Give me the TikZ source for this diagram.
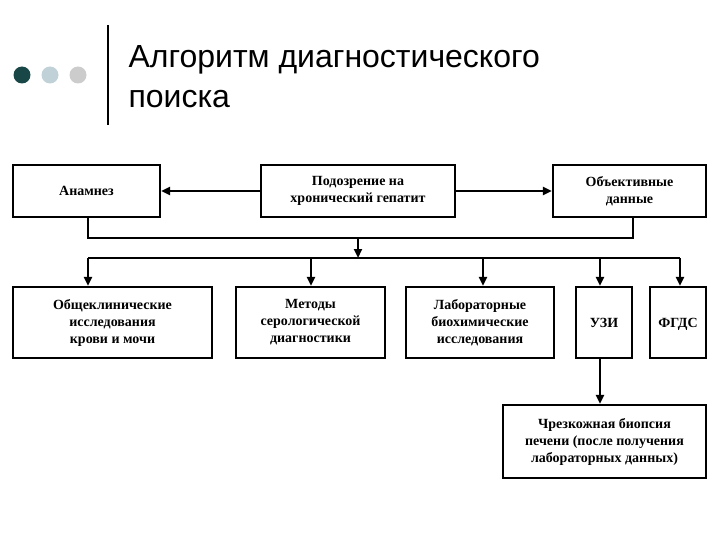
\documentclass[tikz,border=0pt]{standalone}
\usepackage{fontspec}
\setmainfont{Liberation Serif}
\newfontfamily\titlefont{Liberation Sans}
\usetikzlibrary{arrows.meta}
\begin{document}
\begin{tikzpicture}[x=1pt,y=-1pt,
 box/.style={draw,line width=2.2pt,align=center,font=\bfseries\fontsize{14}{17}\selectfont,inner sep=0pt},
 ln/.style={line width=2.2pt},
 arr/.style={line width=2.2pt,-{Triangle[length=9pt,width=8pt]}}]
\useasboundingbox (0,0) rectangle (720,540);
\fill[white] (0,0) rectangle (720,540);
\fill[black!55!teal!80!gray] (22,75) circle (8.5);
\fill[cyan!25!gray!45] (50,75) circle (8.5);
\fill[gray!40] (78,75) circle (8.5);
\draw[line width=1.4pt] (108,25) -- (108,125);
\node[anchor=west,font=\titlefont\fontsize{32}{40}\selectfont,align=left] (title) at (125,77) {Алгоритм диагностического\\поиска};
\node[box,minimum width=147,minimum height=52] (an) at (86.5,191) {Анамнез};
\node[box,minimum width=194,minimum height=52] (pod) at (358,191) {Подозрение на\\хронический гепатит};
\node[box,minimum width=153,minimum height=52] (ob) at (629.5,191) {Объективные\\данные};
\node[box,minimum width=199,minimum height=71] (o1) at (112.5,322.5) {Общеклинические\\исследования\\крови и мочи};
\node[box,minimum width=149,minimum height=71] (o2) at (310.5,322.5) {Методы\\серологической\\диагностики};
\node[box,minimum width=148,minimum height=71] (o3) at (480,322.5) {Лабораторные\\биохимические\\исследования};
\node[box,minimum width=56,minimum height=71,text height=10pt,text depth=0pt] (uzi) at (604,322.5) {УЗИ};
\node[box,minimum width=56,minimum height=71,text height=10pt,text depth=0pt] (fg) at (678,322.5) {ФГДС};
\node[box,minimum width=203,minimum height=73] (bio) at (604.5,441.5) {Чрезкожная биопсия\\печени (после получения\\лабораторных данных)};
\draw[arr] (pod.west) -- (an.east);
\draw[arr] (pod.east) -- (ob.west);
\coordinate (m1) at (358,238);
\coordinate (m2) at (358,258);
\draw[ln] (an.south -| 88,0) |- (m1) -| (ob.south -| 633,0);
\draw[arr] (m1) -- (m2);
\draw[ln] (88,258) -- (680,258);
\draw[arr] (88,258) -- (o1.north -| 88,0);
\draw[arr] (311,258) -- (o2.north -| 311,0);
\draw[arr] (483,258) -- (o3.north -| 483,0);
\draw[arr] (600,258) -- (uzi.north -| 600,0);
\draw[arr] (680,258) -- (fg.north -| 680,0);
\draw[arr] (uzi.south -| 600,0) -- (bio.north -| 600,0);
\end{tikzpicture}
\end{document}
